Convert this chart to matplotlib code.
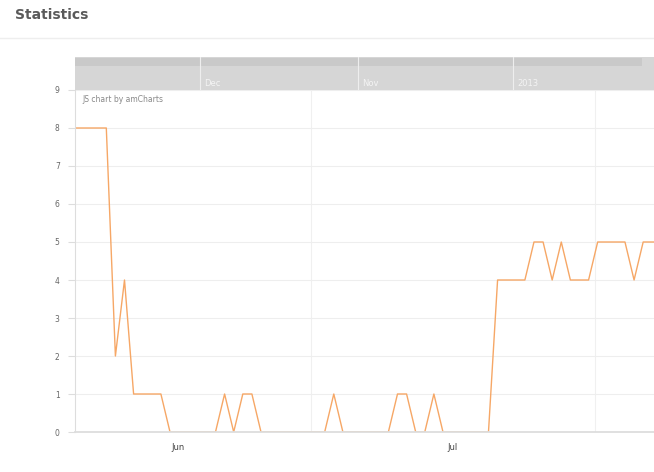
import numpy as np
import matplotlib
matplotlib.use('Agg')
import matplotlib.pyplot as plt
from matplotlib.patches import Rectangle

# daily values, first point is 11 days before the first 0 (offset -11)
values = [8, 8, 8, 8, 8, 2, 4, 1, 1, 1, 1,
          0, 0, 0, 0, 0, 0, 1, 0, 1, 1, 0,
          0, 0, 0, 0, 0, 0, 0, 1, 0,
          0, 0, 0, 0, 0, 1, 1, 0, 0, 1, 0,
          0, 0, 0, 0, 0,
          4, 4, 4, 4, 5, 5, 4, 5, 4, 4, 4, 5, 5, 5, 5, 4, 5, 5, 5]
day_offset = -11
month_labels = ['Jun', 'Jul']
month_pos = [0.9, 31.0]
grid_pos = [15.5, 46.7]
scroll_labels = ['Dec', 'Nov', '2013']

days = np.arange(len(values)) + day_offset

W, H = 654, 472
fig = plt.figure(figsize=(W / 100, H / 100), dpi=100)
fig.patch.set_facecolor('white')

def fx(px):
    return px / W

def fy(py):
    return 1 - py / H

# title + separator
fig.text(fx(15), fy(15), 'Statistics', fontsize=10, color='#5a5a5a',
         fontweight='bold', va='center', ha='left', family='DejaVu Sans')
fig.add_artist(plt.Line2D([0, 1], [fy(38), fy(38)], color='#eeeeee', lw=1))

# main plot area
left, right, top, bottom = 75, 654, 90, 432
ax = fig.add_axes([fx(left), fy(bottom), fx(right - left), fy(top) - fy(bottom)])
ax.plot(days, values, color='#f6a766', lw=1.0, zorder=2)
ax.set_xlim(-10.44, 53.19)
ax.set_ylim(0, 9)

ax.set_yticks(range(10))
ax.set_yticklabels([str(i) for i in range(10)], fontsize=5.5, color='#666666')
ax.set_xticks(month_pos)
ax.set_xticklabels(month_labels, fontsize=6, color='#444444')
ax.tick_params(axis='y', length=5, color='#dddddd', pad=6)
ax.tick_params(axis='x', length=0, pad=8)
ax.grid(axis='y', color='#eeeeee', lw=0.8)
for g in grid_pos:
    ax.axvline(g, color='#f0f0f0', lw=0.8, zorder=1)
for s in ['top', 'right']:
    ax.spines[s].set_visible(False)
ax.spines['left'].set_color('#dddddd')
ax.spines['bottom'].set_color('#dddddd')
ax.spines['left'].set_linewidth(0.8)
ax.spines['bottom'].set_linewidth(1.3)
ax.spines['bottom'].set_zorder(3)

ax.text(0.012, 0.985, 'JS chart by amCharts', transform=ax.transAxes,
        fontsize=5.5, color='#888888', va='top', ha='left')

# scrollbar
sb = fig.add_axes([fx(left), fy(90), fx(right - left), fy(57) - fy(90)])
sb.set_xlim(left, right)
sb.set_ylim(90, 57)
sb.set_facecolor('#d6d6d6')
sb.add_patch(Rectangle((left, 58), right - left - 12, 8, color='#c9c9c9', lw=0))
for xp in [200, 358, 513]:
    sb.axvline(xp, color='#eeeeee', lw=0.8)
for xp, lab in zip([204, 362, 517], scroll_labels):
    sb.text(xp, 83, lab, fontsize=6, color='#f4f4f4', va='center', ha='left')
sb.set_xticks([])
sb.set_yticks([])
for s in sb.spines.values():
    s.set_visible(False)

plt.savefig('out.png', dpi=100)
plt.close()
